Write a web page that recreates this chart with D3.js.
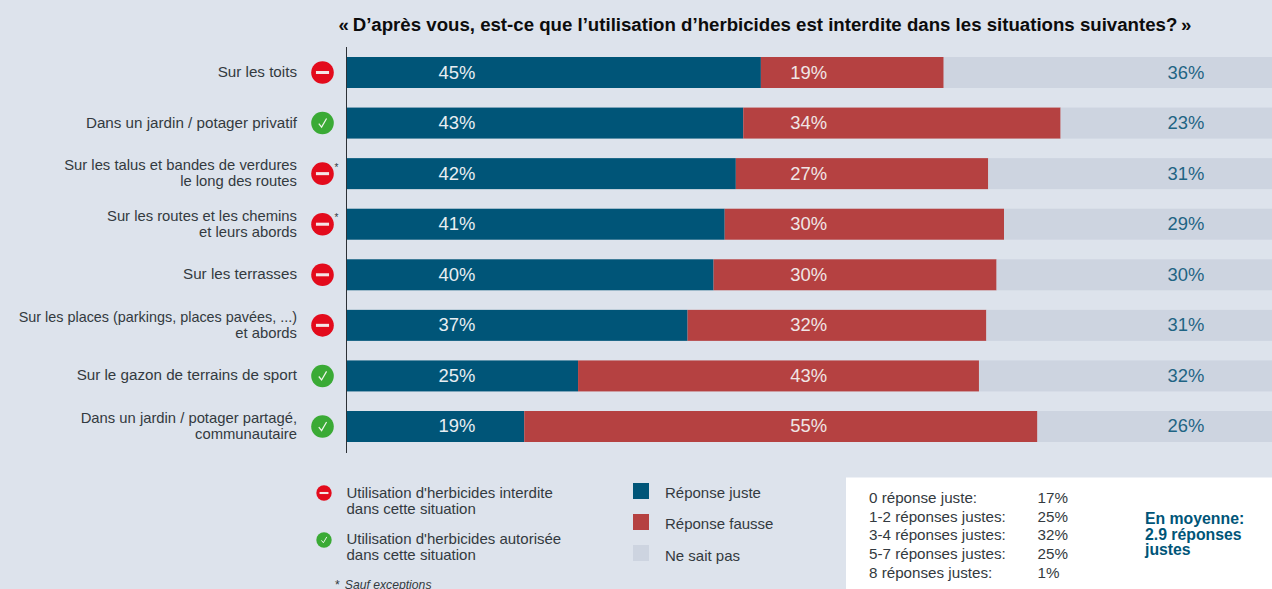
<!DOCTYPE html>
<html><head><meta charset="utf-8">
<script src="https://cdn.jsdelivr.net/npm/d3@7/dist/d3.min.js"></script>
<style>html,body{margin:0;padding:0;background:#dde3ec;overflow:hidden}svg{display:block}text{font-family:"Liberation Sans",Arial,sans-serif}</style>
</head><body><svg id="c" width="1272" height="589"></svg>
<script>
const titleText = "«\u2009D’après vous, est-ce que l’utilisation d’herbicides est interdite dans les situations suivantes?\u2009»";
const categories = ["Sur les toits","Dans un jardin / potager privatif","Sur les talus et bandes de verdures|le long des routes","Sur les routes et les chemins|et leurs abords","Sur les terrasses","Sur les places (parkings, places pavées, ...)|et abords","Sur le gazon de terrains de sport","Dans un jardin / potager partagé,|communautaire"];
const juste = [45,43,42,41,40,37,25,19];
const fausse = [19,34,27,30,30,32,43,55];
const nsp = [36,23,31,29,30,31,32,26];
// bar lengths as drawn in the picture (the printed labels are rounded)
const barJuste = [44.6,42.7,41.9,40.7,39.5,36.7,24.9,19.1];
const barFausse = [19.7,34.2,27.2,30.1,30.5,32.2,43.2,55.3];
const statut = ["no","ok","no*","no*","no","no","ok","ok"];
const seriesNames = ["Réponse juste","Réponse fausse","Ne sait pas"];
const seriesColors = ["#005578","#b54141","#cdd4e0"];
const labelColors = ["#e8eef2","#f0e6e6","#1f6484"];
const labelColumns = [11.85,49.75,90.4];
const distLabels = ["0 réponse juste:","1-2 réponses justes:","3-4 réponses justes:","5-7 réponses justes:","8 réponses justes:"];
const distValues = ["17%","25%","32%","25%","1%"];
const moyenne = ["En moyenne:","2.9 réponses","justes"];
const legendIcons = [["no","Utilisation d'herbicides interdite","dans cette situation"],["ok","Utilisation d'herbicides autorisée","dans cette situation"]];

const svg = d3.select("#c");
const x = d3.scaleLinear().domain([0,100]).range([347,1275]);
const y = d3.scaleBand().domain(categories).range([57,442]).paddingInner(0.387);
const ink = "#333a40";

svg.append("text").attr("x",765).attr("y",31).attr("text-anchor","middle")
  .attr("font-size",18.65).attr("font-weight",700).attr("fill","#0c0c0c").text(titleText);

function icon(g,cx,cy,r,kind){
  if(kind==="no"){
    g.append("circle").attr("cx",cx).attr("cy",cy).attr("r",r).attr("fill","#e30b1c");
    g.append("line").attr("x1",cx-r*0.58).attr("x2",cx+r*0.58).attr("y1",cy).attr("y2",cy).attr("stroke","#f4e6e6").attr("stroke-width",r*0.27);
  } else {
    g.append("circle").attr("cx",cx).attr("cy",cy).attr("r",r).attr("fill","#3aaa35");
    g.append("path").attr("d",`M${cx-r*0.33},${cy+r*0.05}L${cx-r*0.08},${cy+r*0.36}L${cx+r*0.36},${cy-r*0.4}`)
      .attr("fill","none").attr("stroke","#eef5ea").attr("stroke-width",Math.max(1,r*0.11));
  }
}

const rows = svg.selectAll("g.row").data(categories).join("g").attr("class","row");
rows.each(function(c,i){
  const g = d3.select(this);
  const ends = [[0,barJuste[i]],[barJuste[i],barJuste[i]+barFausse[i]],[barJuste[i]+barFausse[i],100]];
  ends.forEach((e,k)=>{
    g.append("rect").attr("x",x(e[0])).attr("y",y(c)).attr("width",x(e[1])-x(e[0])).attr("height",y.bandwidth()).attr("fill",seriesColors[k]);
  });
  [juste[i],fausse[i],nsp[i]].forEach((v,k)=>{
    g.append("text").attr("x",x(labelColumns[k])).attr("y",y(c)+y.bandwidth()/2+6).attr("text-anchor","middle")
      .attr("font-size",18.4).attr("fill",labelColors[k]).text(v+"%");
  });
  const lines = c.split("|");
  const cy = y(c)+y.bandwidth()/2;
  lines.forEach((l,j)=>{
    g.append("text").attr("x",297).attr("y",cy+4.5-(lines.length-1)*8+j*16).attr("text-anchor","end")
      .attr("font-size",l.includes("...")?14.4:(lines.length>1?14.8:15.2)).attr("fill",ink).text(l);
  });
  const st = statut[i];
  icon(g,322.5,cy,11.3,st.slice(0,2));
  if(st.endsWith("*")) g.append("text").attr("x",336.5).attr("y",cy-3).attr("text-anchor","middle").attr("font-size",10).attr("fill",ink).text("*");
});

svg.append("line").attr("x1",346.5).attr("x2",346.5).attr("y1",47).attr("y2",453).attr("stroke","#2c3136").attr("stroke-width",1);

legendIcons.forEach((d,i)=>{
  const base = [498,544][i];
  const g = svg.append("g");
  icon(g,324,[493,540][i],7.7,d[0]);
  g.append("text").attr("x",346.5).attr("y",base).attr("font-size",15).attr("fill",ink).text(d[1]);
  g.append("text").attr("x",346.5).attr("y",base+16).attr("font-size",15).attr("fill",ink).text(d[2]);
});
const foot = svg.append("text").attr("x",335).attr("y",589).attr("font-size",12.2).attr("fill",ink);
foot.append("tspan").text("*");
foot.append("tspan").attr("dx",5).attr("font-style","italic").text("Sauf exceptions");

seriesNames.forEach((n,i)=>{
  svg.append("rect").attr("x",633).attr("y",[483,514,545][i]).attr("width",16).attr("height",16).attr("fill",seriesColors[i]);
  svg.append("text").attr("x",665).attr("y",[498,529,561][i]).attr("font-size",15).attr("fill",ink).text(n);
});

svg.append("rect").attr("x",846).attr("y",477.5).attr("width",430).attr("height",115).attr("fill","#ffffff");
distLabels.forEach((l,i)=>{
  const by = 503+i*18.7;
  svg.append("text").attr("x",869).attr("y",by).attr("font-size",15.2).attr("fill",ink).text(l);
  svg.append("text").attr("x",1037.5).attr("y",by).attr("font-size",15.2).attr("fill",ink).text(distValues[i]);
});
moyenne.forEach((l,i)=>{
  svg.append("text").attr("x",1145).attr("y",524+i*15.5).attr("font-size",15.8).attr("font-weight",700).attr("fill","#005578").text(l);
});
</script></body></html>
